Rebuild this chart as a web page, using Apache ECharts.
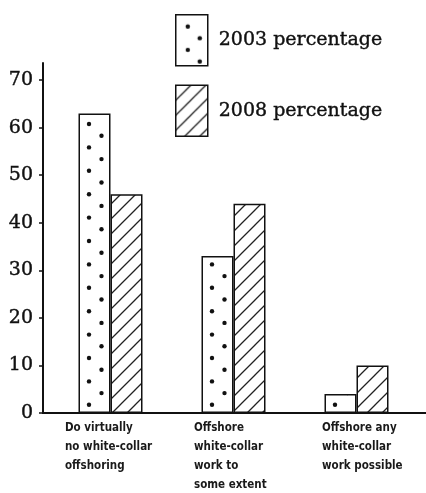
<!DOCTYPE html>
<html>
<head>
<meta charset="utf-8">
<script src="https://cdn.jsdelivr.net/npm/echarts@6/dist/echarts.min.js"></script>
<style>
  html, body { margin: 0; padding: 0; background: #fff; }
  #chart { width: 426px; height: 493px; }
</style>
</head>
<body>
<div id="chart"></div>
<script>
var categories = [
    'Do virtually\nno white-collar\noffshoring',
    'Offshore\nwhite-collar\nwork to\nsome extent',
    'Offshore any\nwhite-collar\nwork possible'
];
var seriesNames = ['2003 percentage', '2008 percentage'];
var values2003 = [63, 33, 4];
var values2008 = [46, 44, 10];
var yTicks = [0, 10, 20, 30, 40, 50, 60, 70];

// dotted fill, one tile per category band so every bar gets the same dot layout
function dotPattern(w, h, dots) {
    var c = document.createElement('canvas');
    c.width = w; c.height = h;
    var ctx = c.getContext('2d');
    ctx.fillStyle = '#fff';
    ctx.fillRect(0, 0, w, h);
    ctx.fillStyle = '#111';
    dots.forEach(function (d) {
        ctx.beginPath();
        ctx.arc(d[0], d[1], 2.2, 0, Math.PI * 2);
        ctx.fill();
    });
    return c;
}

function hatchPattern(s) {
    var c = document.createElement('canvas');
    c.width = s; c.height = s;
    var ctx = c.getContext('2d');
    ctx.fillStyle = '#fff';
    ctx.fillRect(0, 0, s, s);
    ctx.strokeStyle = '#222';
    ctx.lineWidth = 1.3;
    ctx.beginPath();
    ctx.moveTo(0, s); ctx.lineTo(s, 0);
    ctx.moveTo(-2, 2); ctx.lineTo(2, -2);
    ctx.moveTo(s - 2, s + 2); ctx.lineTo(s + 2, s - 2);
    ctx.stroke();
    return c;
}

var barDots = [];
for (var k = 0; k < 5; k++) {
    barDots.push([89, 7 + 23.4 * k]);
    barDots.push([101.5, 18.7 + 23.4 * k]);
}
var dotsFill = { image: dotPattern(123, 117, barDots), repeat: 'repeat' };
var legendDotsFill = {
    image: dotPattern(40, 60, [[12, 11.7], [24, 23.4], [12, 35.1], [24, 46.8]]),
    repeat: 'repeat'
};
var hatchFill = { image: hatchPattern(15), repeat: 'repeat' };

var labelWidths = [91, 79, 69];
var rich = {};
labelWidths.forEach(function (w, i) {
    rich['a' + i] = {
        width: w, align: 'left',
        fontFamily: "'Liberation Sans Narrow', 'DejaVu Sans Condensed', sans-serif",
        fontWeight: 'bold', fontSize: 11.5, lineHeight: 19, color: '#1a1a1a'
    };
});

var serifText = {
    fontFamily: "'DejaVu Serif', serif",
    fontSize: 19,
    color: '#111',
    textBorderColor: '#111',
    textBorderWidth: 0.4
};

var myChart = echarts.init(document.getElementById('chart'));

var option = {
    backgroundColor: '#fff',
    animation: false,
    grid: { left: 49, right: 8, top: 63, bottom: 80 },
    legend: {
        orient: 'vertical',
        left: 175,
        top: 14,
        icon: 'rect',
        itemWidth: 32,
        itemHeight: 51,
        itemGap: 18,
        padding: 0,
        textStyle: Object.assign({ padding: [0, 0, 0, 6] }, serifText),
        data: [
            { name: seriesNames[0], itemStyle: { color: legendDotsFill, borderColor: '#111', borderWidth: 1.5 } },
            { name: seriesNames[1], itemStyle: { color: hatchFill, borderColor: '#111', borderWidth: 1.5 } }
        ]
    },
    xAxis: {
        type: 'category',
        data: categories,
        axisLine: { lineStyle: { color: '#111', width: 2 } },
        axisTick: { show: false },
        axisLabel: {
            interval: 0,
            margin: 6,
            align: 'center',
            formatter: function (value, index) {
                return value.split('\n').map(function (line) {
                    return '{a' + index + '|' + line + '}';
                }).join('\n');
            },
            rich: rich
        }
    },
    yAxis: {
        type: 'value',
        min: 0,
        max: 73.6,
        offset: 6,
        splitLine: { show: false },
        axisLine: { show: true, lineStyle: { color: '#111', width: 2 } },
        axisTick: { show: true, length: 4, customValues: yTicks, lineStyle: { color: '#111', width: 1.5 } },
        axisLabel: Object.assign({ customValues: yTicks, margin: 10 }, serifText)
    },
    series: [
        {
            name: seriesNames[0],
            type: 'bar',
            data: values2003,
            barWidth: 32,
            barGap: '0%',
            itemStyle: { color: dotsFill, borderColor: '#111', borderWidth: 1.5 }
        },
        {
            name: seriesNames[1],
            type: 'bar',
            data: values2008,
            barWidth: 32,
            barGap: '0%',
            itemStyle: { color: hatchFill, borderColor: '#111', borderWidth: 1.5 }
        }
    ]
};

myChart.setOption(option);

// baseline runs from the y axis to the right edge of the page
var baseY = myChart.convertToPixel({ yAxisIndex: 0 }, 0);
myChart.setOption({
    graphic: [{
        type: 'line',
        z: 10,
        shape: { x1: 42, y1: baseY, x2: 426, y2: baseY },
        style: { stroke: '#111', lineWidth: 2 }
    }]
});
</script>
</body>
</html>
